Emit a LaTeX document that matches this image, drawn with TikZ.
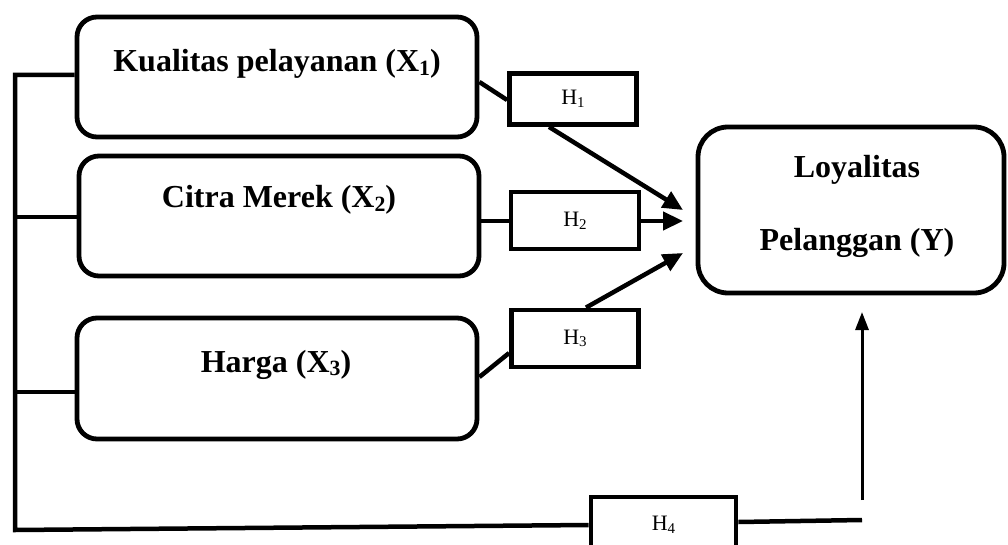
\documentclass[tikz,border=0pt]{standalone}
\usepackage{fontspec}
\setmainfont{Liberation Serif}
\usetikzlibrary{arrows.meta}
\newcommand{\mysub}[1]{\raisebox{-0.12em}{\scalebox{0.68}{#1}}}
\tikzset{
  varbox/.style={draw, line width=4.8pt, rounded corners=20pt, minimum width=#1, inner sep=0pt},
  hbox/.style={draw, line width=4.8pt, inner sep=0pt, font=\fontsize{22}{24}\selectfont},
  vtext/.style={anchor=base, font=\bfseries\fontsize{32}{38}\selectfont, inner sep=0pt},
  conn/.style={line width=4.5pt},
  arr/.style={line width=4.5pt, -{Triangle[length=20pt,width=18pt]}},
  arrthin/.style={line width=3pt, -{Triangle[length=18pt,width=13pt]}}
}
\begin{document}
\begin{tikzpicture}[x=1pt,y=-1pt]
\useasboundingbox (0,0) rectangle (1008,545);
% variable boxes
\node[varbox=400pt, minimum height=120pt] (x1) at (277,77) {};
\node[varbox=400pt, minimum height=120pt] (x2) at (279,216) {};
\node[varbox=400pt, minimum height=121pt] (x3) at (277,378.5) {};
\node[varbox=306pt, minimum height=166pt, rounded corners=30pt] (y) at (851,210) {};
% texts
\node[vtext] (x1t) at (277,72) {Kualitas pelayanan (X\mysub{1})};
\node[vtext] (x2t) at (279,208) {Citra Merek (X\mysub{2})};
\node[vtext] (x3t) at (276,372) {Harga (X\mysub{3})};
\node[vtext] (yt1) at (857,178) {Loyalitas};
\node[vtext] (yt2) at (857,250) {Pelanggan (Y)};
% hypothesis boxes
\node[hbox, minimum width=127pt, minimum height=51pt] (h1) at (573,99) {H\mysub{1}};
\node[hbox, minimum width=128pt, minimum height=57pt] (h2) at (575,220.5) {H\mysub{2}};
\node[hbox, minimum width=127pt, minimum height=57pt] (h3) at (575,338.5) {H\mysub{3}};
\node[hbox, minimum width=145pt, minimum height=56pt] (h4) at (663.5,525) {H\mysub{4}};
% arrow targets
\coordinate (t1) at (683,210);
\coordinate (t2) at (683,221);
\coordinate (t3) at (683,253);
\coordinate (b1) at (15,75);
\coordinate (b2) at (15,217);
\coordinate (b3) at (15,392);
\coordinate (b4) at (15,530);
\coordinate (r1) at (862,520);
\coordinate (r2) at (862,500);
\coordinate (r3) at (862,312);
% connectors
\draw[conn] (x1.east |- 0,82) -- (h1.west |- 0,100);
\draw[arr] (h1.south -| 549,0) -- (t1);
\draw[conn] (x2.east |- 0,221) -- (h2.west |- 0,221);
\draw[arr] (h2.east |- 0,221) -- (t2);
\draw[conn] (x3.east |- 0,377) -- (h3.west |- 0,353);
\draw[arr] (h3.north -| 586,0) -- (t3);
% left bus
\draw[conn, line join=miter] (x1.west |- b1) -- (b1) -- (b4) -- (h4.west |- 0,525);
\draw[conn] (b2) -- (x2.west |- b2);
\draw[conn] (b3) -- (x3.west |- b3);
\draw[conn] (h4.east |- 0,522) -- (r1);
\draw[arrthin] (r2) -- (r3);
\end{tikzpicture}
\end{document}
